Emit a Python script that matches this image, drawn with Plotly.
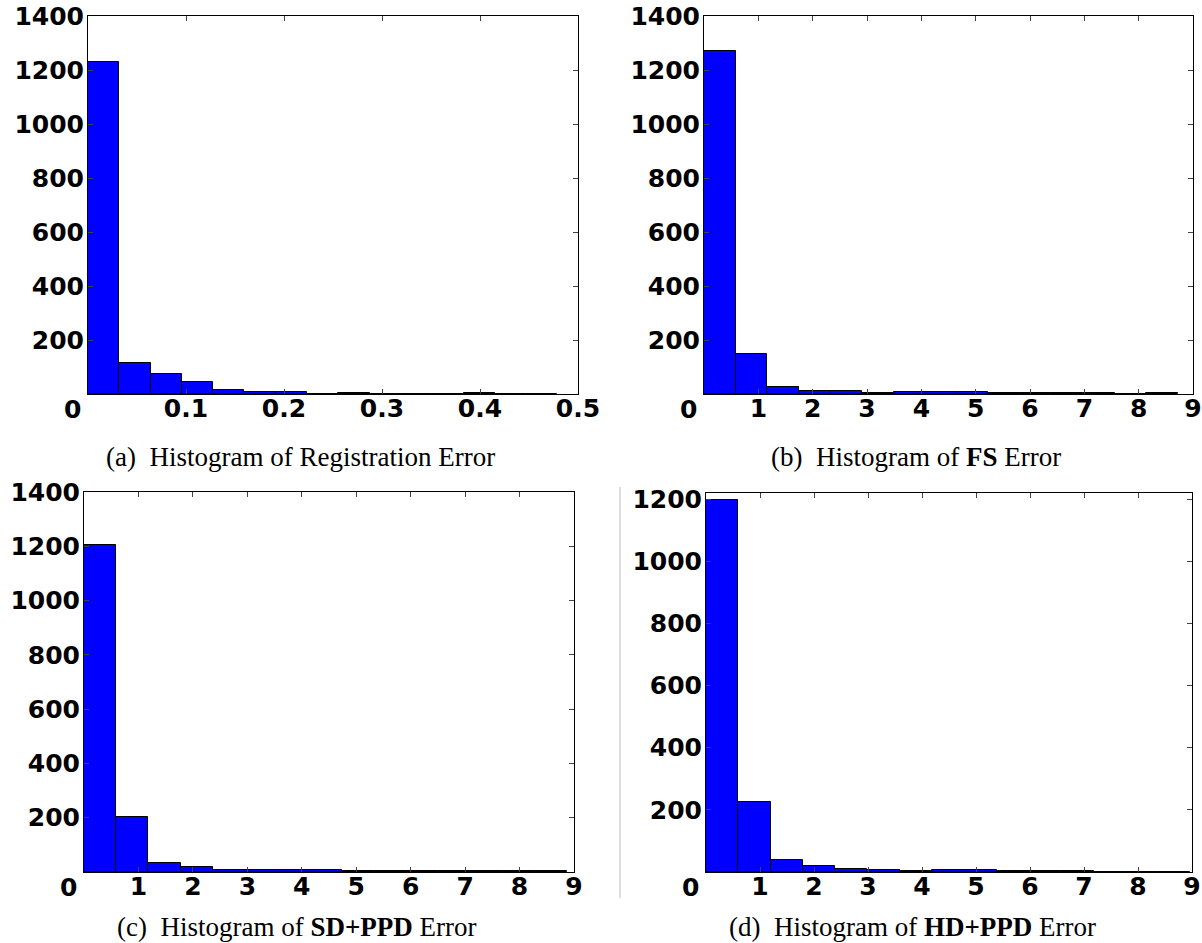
import numpy as np
import plotly.graph_objects as go

# ---- data (15-bin histograms) ----
counts_a = [1228, 114, 74, 43, 13, 6, 9, 0, 2, 1, 1, 0, 2, 0, 1]
counts_b = [1270, 148, 27, 11, 10, 5, 6, 6, 7, 2, 4, 2, 2, 1, 2]
counts_c = [1204, 203, 33, 20, 9, 7, 7, 6, 5, 4, 3, 3, 2, 3, 2]
counts_d = [1196, 224, 40, 20, 9, 5, 4, 5, 7, 3, 3, 2, 1, 1, 1]
max_errors = [0.479, 8.72, 8.87, 8.97]

xticks_a = [0, 0.1, 0.2, 0.3, 0.4, 0.5]
xticks_int = [0, 1, 2, 3, 4, 5, 6, 7, 8, 9]
yticks_1400 = [0, 200, 400, 600, 800, 1000, 1200, 1400]
yticks_1200 = [0, 200, 400, 600, 800, 1000, 1200]

captions = [
    "(a)  Histogram of Registration Error",
    "(b)  Histogram of <b>FS</b> Error",
    "(c)  Histogram of <b>SD+PPD</b> Error",
    "(d)  Histogram of <b>HD+PPD</b> Error",
]

W, H = 1202, 943

# panel boxes in pixels: (left, right, top, bottom)
boxes = [(88, 578, 16, 394), (704, 1193, 16, 394),
         (84, 574, 492, 872), (706, 1192, 493, 872)]
caption_pos = [(300, 457), (916, 457), (297, 927), (912, 927)]

panels = [
    (counts_a, max_errors[0], xticks_a, [0, 0.5], yticks_1400, [0, 1400]),
    (counts_b, max_errors[1], xticks_int, [0, 9], yticks_1400, [0, 1400]),
    (counts_c, max_errors[2], xticks_int, [0, 9], yticks_1400, [0, 1400]),
    (counts_d, max_errors[3], xticks_int, [0, 9], yticks_1200, [0, 1220]),
]

tickfont = dict(family="DejaVu Sans", size=25, color="black", weight="bold")

fig = go.Figure()
layout = dict(width=W, height=H, margin=dict(l=0, r=0, t=0, b=0),
              paper_bgcolor="white", plot_bgcolor="white", showlegend=False,
              bargap=0, annotations=[], shapes=[])

for i, (counts, mx, xt, xr, yt, yr) in enumerate(panels):
    n = i + 1
    xa = "x" if n == 1 else f"x{n}"
    ya = "y" if n == 1 else f"y{n}"
    edges = np.linspace(0, mx, len(counts) + 1)
    centers = (edges[:-1] + edges[1:]) / 2
    width = edges[1] - edges[0]
    fig.add_trace(go.Bar(x=centers, y=counts, width=width,
                         marker=dict(color="#0000ff",
                                     line=dict(color="black", width=1)),
                         xaxis=xa, yaxis=ya))
    l, r, t, b = boxes[i]
    xkey = "xaxis" if n == 1 else f"xaxis{n}"
    ykey = "yaxis" if n == 1 else f"yaxis{n}"
    xtext = ["" if v == 0 else (f"{v:g}") for v in xt]
    ytext = ["" if v == 0 else str(v) for v in yt]
    layout[xkey] = dict(domain=[l / W, r / W], range=xr, anchor=ya,
                        tickvals=xt, ticktext=xtext, tickfont=tickfont,
                        ticks="inside", ticklen=5, tickcolor="#444",
                        showline=True, linecolor="black", linewidth=1,
                        mirror="allticks", showgrid=False, zeroline=False,
                        automargin=False, ticklabelstandoff=-8)
    layout[ykey] = dict(domain=[1 - b / H, 1 - t / H], range=yr, anchor=xa,
                        tickvals=yt, ticktext=ytext, tickfont=tickfont,
                        ticks="inside", ticklen=5, tickcolor="#444",
                        showline=True, linecolor="black", linewidth=1,
                        mirror="allticks", showgrid=False, zeroline=False,
                        automargin=False, ticklabelstandoff=-2)
    # the single "0" label at the corner
    layout["annotations"].append(dict(
        text="0", xref=f"{xa} domain", yref=f"{ya} domain", x=0, y=0,
        xanchor="right", yanchor="top", xshift=-5, yshift=1,
        showarrow=False, font=tickfont))
    cx, cy = caption_pos[i]
    layout["annotations"].append(dict(
        text=captions[i], xref="paper", yref="paper", x=cx / W, y=1 - cy / H,
        xanchor="center", yanchor="middle", showarrow=False,
        font=dict(family="Liberation Serif", size=27, color="black")))

# thin grey crop line seen left of panel (d)
layout["shapes"].append(dict(type="line", xref="paper", yref="paper",
                             x0=620 / W, x1=620 / W, y0=1 - 898 / H, y1=1 - 487 / H,
                             line=dict(color="#bbbbbb", width=1)))

fig.update_layout(**layout)
fig.write_html("out.html",
               config={"displayModeBar": False},
               post_script="document.body.style.margin='0';"
                           "document.body.style.overflow='hidden';")
